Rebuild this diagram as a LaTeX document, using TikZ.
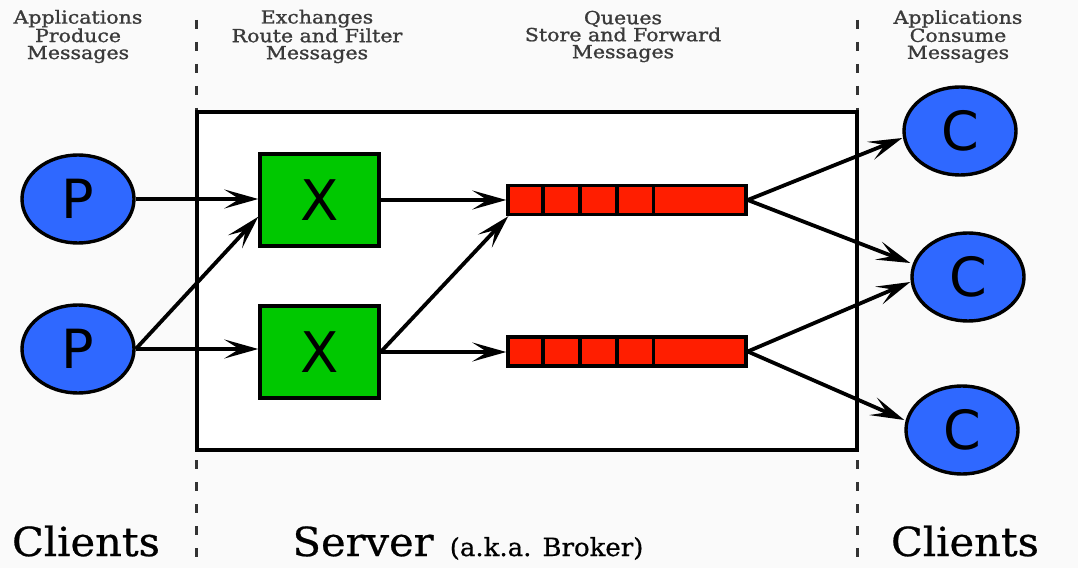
\documentclass[tikz,border=0pt]{standalone}
\usepackage{fontspec}
\setmainfont{DejaVu Serif}
\newfontfamily\lettersans{DejaVu Sans}
\newfontfamily\condserif[FakeStretch=1.04,FakeBold=0.6]{DejaVu Serif}
\newfontfamily\hdrserif[FakeStretch=1.14,FakeBold=1.2]{DejaVu Serif}
\usetikzlibrary{shapes.geometric,arrows.meta,calc}
\definecolor{bg}{HTML}{FAFAFA}
\definecolor{pblue}{HTML}{2F68FF}
\definecolor{xgreen}{HTML}{00C800}
\definecolor{qred}{HTML}{FF1E00}
\definecolor{hdr}{HTML}{3A3A3A}
\tikzset{
  client/.style={ellipse, draw=black, line width=3.4pt, fill=pblue, minimum width=112pt, minimum height=88pt, inner sep=0pt, font=\lettersans\fontsize{54}{54}\selectfont},
  exch/.style={rectangle, draw=black, line width=3.4pt, fill=xgreen, minimum width=119pt, minimum height=92pt, inner sep=0pt, font=\lettersans\fontsize{56}{56}\selectfont},
  queue/.style={rectangle, draw=black, line width=3.4pt, fill=qred, minimum width=238pt, minimum height=29pt, inner sep=0pt},
  conn/.style={line width=3.8pt, -{Stealth[length=34pt,width=19pt,inset=15pt]}},
  hdrtext/.style={align=center, text=hdr, font=\hdrserif\fontsize{18}{17}\selectfont},
  sep/.style={draw=black!80, line width=3pt, dash pattern=on 9pt off 13pt},
  foot/.style={font=\condserif\fontsize{40}{40}\selectfont},
}
\begin{document}
\begin{tikzpicture}[x=1pt,y=1pt]
\useasboundingbox (0,0) rectangle (1078,568);
\fill[bg] (0,0) rectangle (1078,568);
% separators
\draw[sep] (196,548) -- (196,0);
\draw[sep] (857,548) -- (857,0);
% server box
\draw[fill=white, line width=4pt] (197,118) rectangle (857,456);
% headers
\node[hdrtext] (h1) at (78,531.5) {Applications\\Produce\\Messages};
\node[hdrtext] (h2) at (317,531.5) {Exchanges\\Route and Filter\\Messages};
\node[hdrtext] (h3) at (623,531.5) {Queues\\Store and Forward\\Messages};
\node[hdrtext] (h4) at (958,531.5) {Applications\\Consume\\Messages};
% footers
\node[foot, anchor=base] (f1) at (86,12) {Clients};
\node[foot, anchor=base west] (f2) at (289,12) {Server\hspace{3pt} \fontsize{25}{25}\selectfont(a.k.a. Broker)};
\node[foot, anchor=base] (f3) at (965,12) {Clients};
% producers
\node[client] (p1) at (78,369) {P};
\node[client] (p2) at (78,219) {P};
% exchanges
\node[exch] (x1) at (319.5,368) {X};
\node[exch] (x2) at (319.5,216) {X};
% queues
\node[queue] (q1) at (627,368) {};
\node[queue] (q2) at (627,216.5) {};
\foreach \q in {q1,q2}{
  \foreach \f in {0.152,0.306,0.458,0.61}{
    \draw[line width=3.4pt] ($(\q.south west)!\f!(\q.south east)$) -- ($(\q.north west)!\f!(\q.north east)$);
  }
}
% consumers
\node[client] (c1) at (960,437) {C};
\node[client] (c2) at (968,291) {C};
\node[client] (c3) at (962,138) {C};
% connectors
\draw[conn] (p1.east) -- (p1.east -| x1.west);
\draw[conn] (p2.east) -- ([yshift=31pt]x1.south west);
\draw[conn] (p2.east) -- (p2.east -| x2.west);
\draw[conn] (x1.east) -- (q1.west);
\draw[conn] (x2.east) -- ([xshift=2pt]q1.south west);
\draw[conn] (x2.east) -- (x2.east -| q2.west);
\draw[conn] (q1.east) -- ([yshift=-7pt]c1.west);
\draw[conn] (q1.east) -- ([yshift=14pt]c2.west);
\draw[conn] (q2.east) -- ([yshift=-5pt]c2.west);
\draw[conn] (q2.east) -- ([yshift=10pt]c3.west);
\end{tikzpicture}
\end{document}
